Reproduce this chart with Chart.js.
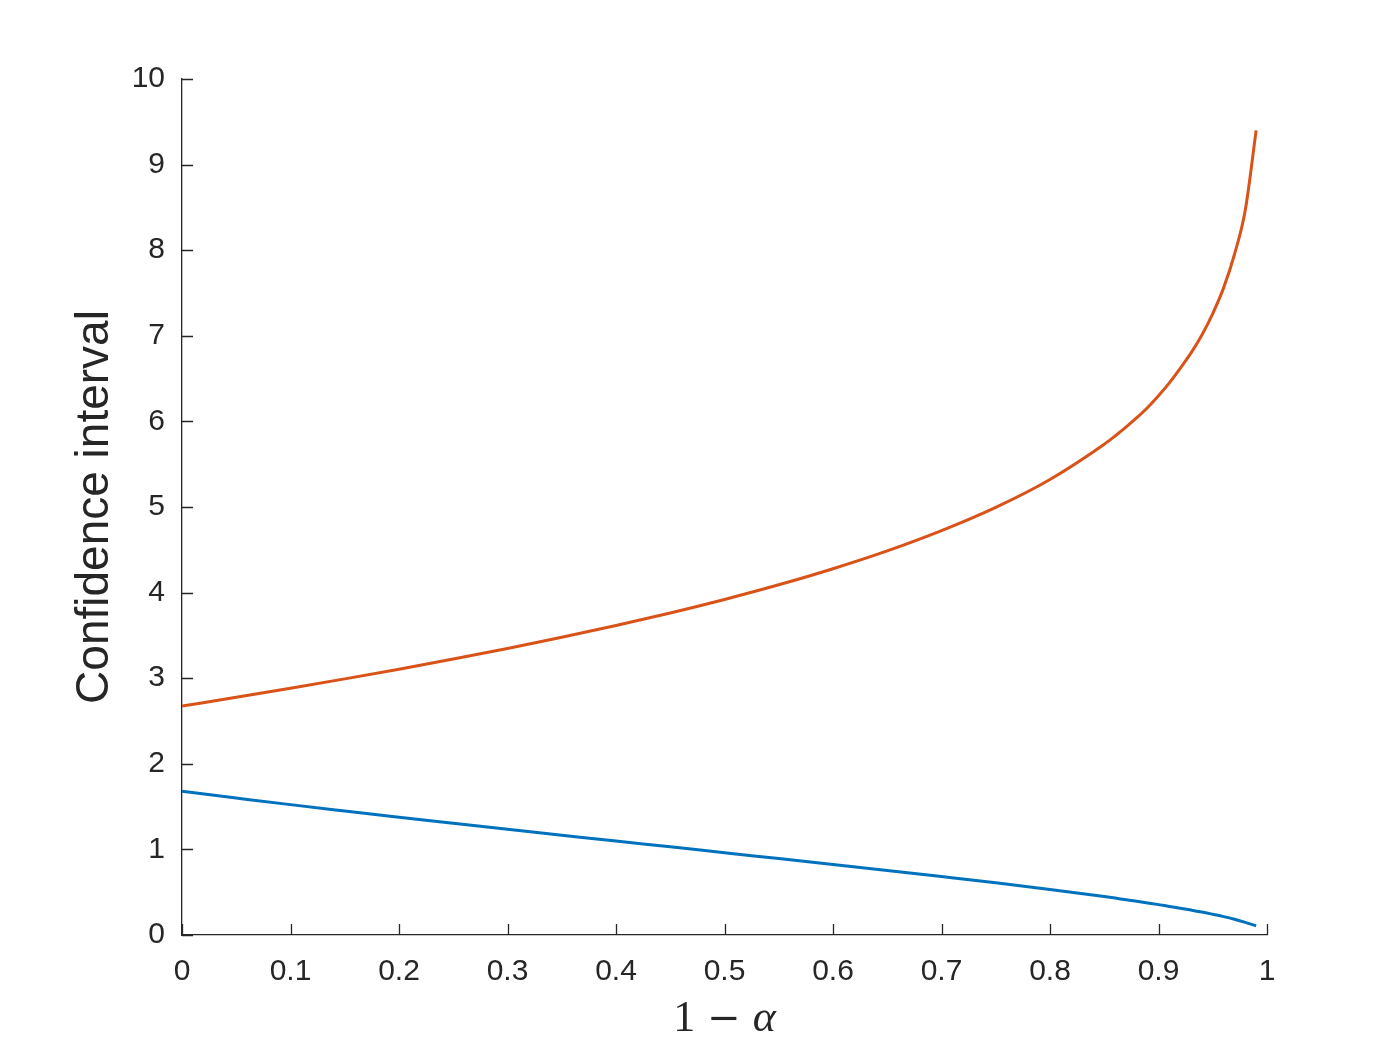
<!DOCTYPE html>
<html>
<head>
<meta charset="utf-8">
<script src="https://cdn.jsdelivr.net/npm/chart.js@4.4.0/dist/chart.umd.min.js"></script>
<style>
  body { margin: 0; background: #fff; }
  #wrap { width: 1400px; height: 1050px; }
</style>
</head>
<body>
<div id="wrap"><canvas id="grafico" width="1400" height="1050"></canvas></div>
<script>
// valores
var nivel = [0, 0.05, 0.1, 0.15, 0.2, 0.25, 0.3, 0.35, 0.4, 0.45, 0.5, 0.55, 0.6, 0.65, 0.7, 0.75, 0.8,
    0.85, 0.86, 0.87, 0.88, 0.89, 0.9, 0.91, 0.92, 0.93, 0.94, 0.95, 0.96, 0.97, 0.98, 0.99]
var limiteInferior = [1.678, 1.600, 1.523, 1.449, 1.376, 1.305, 1.235, 1.166, 1.097, 1.030, 0.961, 0.893, 0.824,
    0.754, 0.683, 0.610, 0.532, 0.449, 0.431, 0.412, 0.394, 0.375, 0.355, 0.334, 0.313, 0.291, 0.268, 0.242,
    0.215, 0.184, 0.148, 0.108]
var limiteSuperior = [2.674, 2.777, 2.882, 2.992, 3.105, 3.224, 3.347, 3.478, 3.616, 3.762, 3.920, 4.091, 4.279,
    4.487, 4.724, 4.996, 5.322, 5.733, 5.83, 5.933, 6.043, 6.163, 6.30, 6.45, 6.62, 6.80, 7.01, 7.26,
    7.56, 7.95, 8.47, 9.40]

var ticksX = [0, 0.1, 0.2, 0.3, 0.4, 0.5, 0.6, 0.7, 0.8, 0.9, 1]
var ticksY = [0, 1, 2, 3, 4, 5, 6, 7, 8, 9, 10]

var corEixo = '#262626'

function pontos(ys) {
    var lista = []
    for (var i = 0; i < nivel.length; i++) {
        lista.push({ x: nivel[i], y: ys[i] })
    }
    return lista
}

// marcas dos ticks para dentro (estilo MATLAB) + titulo do eixo x
const ticksDentro = {
    id: 'ticksDentro',
    afterDraw(chart) {
        const ctx = chart.ctx
        const sx = chart.scales.x
        const sy = chart.scales.y
        const area = chart.chartArea
        ctx.save()
        ctx.strokeStyle = corEixo
        ctx.lineWidth = 1.3
        ctx.beginPath()
        ticksX.forEach(v => {
            const px = Math.round(sx.getPixelForValue(v)) + 0.5
            ctx.moveTo(px, area.bottom)
            ctx.lineTo(px, area.bottom - 11)
        })
        ticksY.forEach(v => {
            const py = Math.round(sy.getPixelForValue(v)) + 0.5
            ctx.moveTo(area.left, py)
            ctx.lineTo(area.left + 11, py)
        })
        ctx.stroke()

        // 1 − α
        const centro = (area.left + area.right) / 2
        const base = 1031
        const fonteReta = '44px "Liberation Serif", "DejaVu Serif", serif'
        const fonteMenos = '40px "DejaVu Serif", serif'
        const fonteItalica = 'italic 44px "Liberation Serif", "DejaVu Serif", serif'
        ctx.fillStyle = corEixo
        ctx.textBaseline = 'alphabetic'
        ctx.textAlign = 'left'
        ctx.font = fonteReta
        const w1 = ctx.measureText('1').width
        ctx.font = fonteMenos
        const wm = ctx.measureText('\u2212').width
        ctx.font = fonteItalica
        const wa = ctx.measureText('\u03b1').width
        const gap = 12
        const total = w1 + gap + wm + gap + wa
        let x0 = centro - total / 2
        ctx.font = fonteReta
        ctx.fillText('1', x0, base)
        ctx.font = fonteMenos
        ctx.fillText('\u2212', x0 + w1 + gap, base)
        ctx.font = fonteItalica
        ctx.fillText('\u03b1', x0 + w1 + gap + wm + gap, base)
        ctx.restore()
    }
}

const dados = {
    datasets: [
        {
            label: 'Inferior',
            data: pontos(limiteInferior),
            borderColor: '#0072BD',
            backgroundColor: '#0072BD',
            borderWidth: 3,
            pointRadius: 0,
            cubicInterpolationMode: 'monotone'
        },
        {
            label: 'Superior',
            data: pontos(limiteSuperior),
            borderColor: '#D95319',
            backgroundColor: '#D95319',
            borderWidth: 3,
            pointRadius: 0,
            cubicInterpolationMode: 'monotone'
        }
    ]
}

const config = {
    type: 'line',
    data: dados,
    options: {
        responsive: false,
        animation: false,
        layout: {
            padding: { left: 0, top: 79, right: 133, bottom: 0 }
        },
        plugins: {
            legend: { display: false },
            tooltip: { enabled: false }
        },
        scales: {
            x: {
                type: 'linear',
                min: 0,
                max: 1,
                afterFit: function (scale) { scale.height = 115 },
                afterBuildTicks: function (scale) {
                    scale.ticks = ticksX.map(v => ({ value: v }))
                },
                grid: { display: true, drawOnChartArea: false, drawTicks: false },
                border: { display: true, color: corEixo, width: 1.3 },
                ticks: {
                    color: corEixo,
                    padding: 19,
                    maxRotation: 0,
                    autoSkip: false,
                    font: { family: '"Liberation Sans", Arial, sans-serif', size: 30 },
                    callback: function (v) { return String(Math.round(v * 10) / 10) }
                }
            },
            y: {
                min: 0,
                max: 10,
                afterFit: function (scale) { scale.width = 182 },
                afterBuildTicks: function (scale) {
                    scale.ticks = ticksY.map(v => ({ value: v }))
                },
                grid: { display: true, drawOnChartArea: false, drawTicks: false },
                border: { display: true, color: corEixo, width: 1.3 },
                ticks: {
                    color: corEixo,
                    padding: 17,
                    autoSkip: false,
                    font: { family: '"Liberation Sans", Arial, sans-serif', size: 30 }
                },
                title: {
                    display: true,
                    text: 'Confidence interval',
                    color: corEixo,
                    padding: { top: 68, bottom: 0 },
                    font: { family: '"Liberation Sans", Arial, sans-serif', size: 46, weight: 'normal' }
                }
            }
        }
    },
    plugins: [ticksDentro]
}

const meuGrafico = new Chart(document.getElementById('grafico'), config)
</script>
</body>
</html>
